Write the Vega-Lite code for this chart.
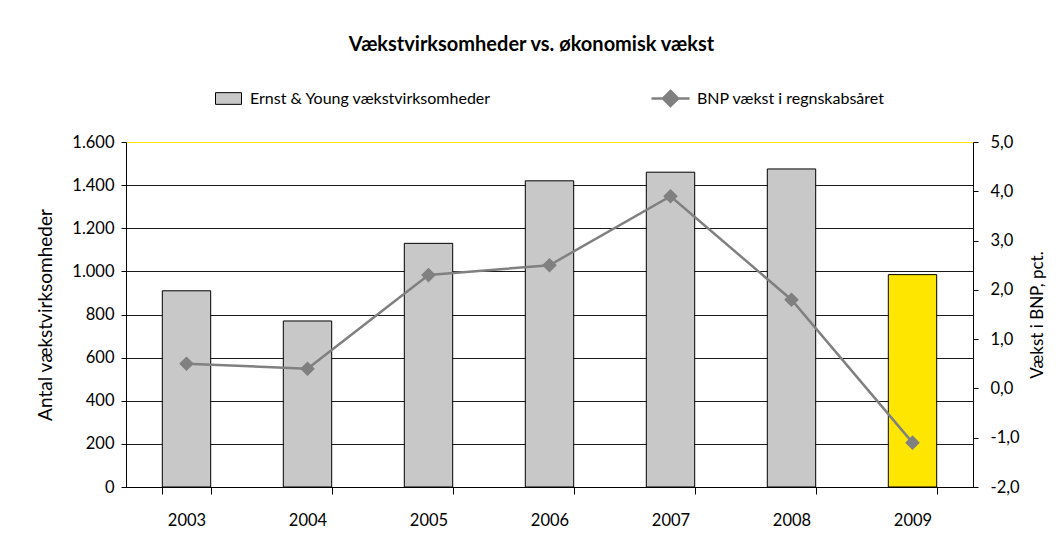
{
  "$schema": "https://vega.github.io/schema/vega-lite/v6.json",
  "width": 847,
  "height": 345,
  "autosize": {"type": "none"},
  "padding": {"left": 126, "top": 142, "right": 88, "bottom": 60},
  "background": "#ffffff",
  "config": {
    "locale": {"number": {"decimal": ",", "thousands": ".", "grouping": [3], "currency": ["", " kr."], "minus": "-"}},
    "font": "Lato",
    "view": {"stroke": "#FFE600", "strokeWidth": 1},
    "axis": {
      "labelFont": "Lato", "labelFontSize": 16.5, "labelColor": "#000",
      "titleFont": "Lato", "titleFontSize": 17, "titleFontWeight": "normal", "titleColor": "#000",
      "domainColor": "#000", "tickColor": "#000", "domainWidth": 1, "tickWidth": 1
    },
    "legend": {"labelFont": "Lato", "labelFontSize": 16, "labelColor": "#000", "labelLimit": 0}
  },
  "title": {
    "text": "Vækstvirksomheder vs. økonomisk vækst",
    "fontSize": 20, "fontWeight": "bold", "font": "Lato", "color": "#000",
    "anchor": "middle", "offset": 23, "dx": -18
  },
  "data": {
    "values": [
      {"year": 2003, "count": 910, "bnp": 0.5, "series": "Ernst & Young vækstvirksomheder", "series2": "BNP vækst i regnskabsåret"},
      {"year": 2004, "count": 770, "bnp": 0.4, "series": "Ernst & Young vækstvirksomheder", "series2": "BNP vækst i regnskabsåret"},
      {"year": 2005, "count": 1130, "bnp": 2.3, "series": "Ernst & Young vækstvirksomheder", "series2": "BNP vækst i regnskabsåret"},
      {"year": 2006, "count": 1420, "bnp": 2.5, "series": "Ernst & Young vækstvirksomheder", "series2": "BNP vækst i regnskabsåret"},
      {"year": 2007, "count": 1460, "bnp": 3.9, "series": "Ernst & Young vækstvirksomheder", "series2": "BNP vækst i regnskabsåret"},
      {"year": 2008, "count": 1475, "bnp": 1.8, "series": "Ernst & Young vækstvirksomheder", "series2": "BNP vækst i regnskabsåret"},
      {"year": 2009, "count": 985, "bnp": -1.1, "series": "Ernst & Young vækstvirksomheder", "series2": "BNP vækst i regnskabsåret"}
    ]
  },
  "encoding": {
    "x": {
      "field": "year", "type": "ordinal",
      "scale": {"paddingInner": 0.6, "paddingOuter": 0.3},
      "axis": {"title": null, "labelAngle": 0, "tickBand": "extent", "tickSize": 7, "labelPadding": 18, "grid": false}
    }
  },
  "layer": [
    {
      "mark": {"type": "bar", "stroke": "#000", "strokeWidth": 1},
      "encoding": {
        "y": {
          "field": "count", "type": "quantitative",
          "scale": {"domain": [0, 1600], "nice": false},
          "axis": {
            "title": "Antal vækstvirksomheder",
            "titleFontSize": 19,
            "values": [0, 200, 400, 600, 800, 1000, 1200, 1400, 1600],
            "format": ",d",
            "grid": true,
            "gridColor": {"condition": {"test": "datum.value == 1600", "value": "#FFE600"}, "value": "#1a1a1a"},
            "gridWidth": 1,
            "tickSize": 5, "labelPadding": 7, "titlePadding": 16
          }
        },
        "fill": {
          "condition": {"test": "datum.year == 2009", "value": "#FFE600"},
          "field": "series", "type": "nominal",
          "scale": {"range": ["#C8C8C8"]},
          "legend": {
            "title": null, "orient": "none", "legendX": 89, "legendY": -57,
            "symbolType": "M-1,-0.45L1,-0.45L1,0.45L-1,0.45Z",
            "symbolSize": 676, "symbolStrokeColor": "#000", "symbolStrokeWidth": 1,
            "symbolFillColor": "#C8C8C8", "labelOffset": 8
          }
        }
      }
    },
    {
      "mark": {
        "type": "line", "color": "#808080", "strokeWidth": 2.5,
        "point": {"shape": "diamond", "size": 140, "filled": true, "fill": "#808080", "stroke": "#808080"}
      },
      "encoding": {
        "y": {
          "field": "bnp", "type": "quantitative",
          "scale": {"domain": [-2, 5], "nice": false},
          "axis": {
            "orient": "right",
            "title": "Vækst i BNP, pct.",
            "values": [-2, -1, 0, 1, 2, 3, 4, 5],
            "format": ".1f",
            "grid": false,
            "tickSize": 5, "labelPadding": 12, "titlePadding": 27,
            "titleAngle": 270
          }
        },
        "stroke": {
          "field": "series2", "type": "nominal",
          "scale": {"range": ["#808080"]},
          "legend": {
            "title": null, "orient": "none", "legendX": 524, "legendY": -64,
            "symbolType": "M-1,0L1,0M0,-0.4L0.4,0L0,0.4L-0.4,0Z",
            "symbolSize": 1444, "symbolStrokeWidth": 2.5, "symbolStrokeColor": "#808080",
            "labelOffset": 6,
            "encode": {"symbols": {"update": {"fill": {"value": "#808080"}, "stroke": {"value": "#808080"}}}}
          }
        }
      }
    }
  ],
  "resolve": {"scale": {"y": "independent", "fill": "independent", "stroke": "independent"}}
}
